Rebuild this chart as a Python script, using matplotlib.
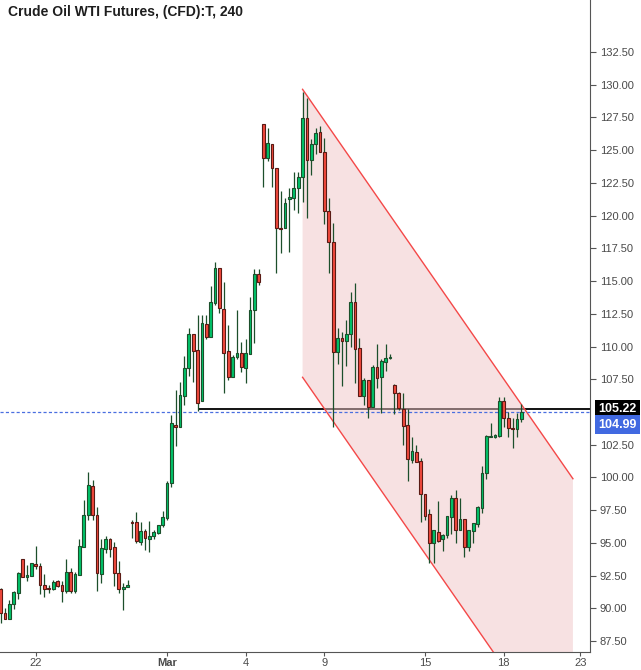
import matplotlib
matplotlib.use("Agg")
import matplotlib.pyplot as plt
import matplotlib.transforms as mtransforms
import numpy as np

plt.rcParams['font.family'] = ['Liberation Sans', 'DejaVu Sans']

# 4h candles (one entry per bar, left to right)
opens = [91.46, 89.62, 89.20, 90.33, 91.20, 93.75, 92.42, 92.50, 93.37, 93.21,
         91.76, 91.55, 91.50, 92.07, 91.76, 91.35, 92.75, 91.35, 92.58, 94.70,
         97.10, 99.35, 97.13, 92.65, 94.56, 95.27, 94.66, 92.68, 91.46, 91.60,
         96.62, 96.57, 95.10, 95.91, 95.33, 95.50, 95.78, 96.36, 96.93, 99.55,
         103.98, 103.83, 106.25, 108.33, 110.93, 109.73, 105.86, 111.70, 110.73, 113.30,
         115.97, 112.84, 109.63, 107.65, 109.17, 109.48, 108.33, 109.45, 112.82, 115.54,
         126.97, 124.38, 125.45, 123.61, 119.08, 119.03, 121.30, 121.32, 122.08, 122.92,
         127.43, 124.25, 125.45, 126.36, 124.83, 120.35, 118.01, 109.61, 110.63, 110.45,
         110.93, 113.38, 109.86, 106.25, 107.44, 105.41, 108.41, 107.65, 108.84, 109.10,
         107.06, 106.42, 105.20, 104.00, 101.33, 101.92, 101.25, 98.71, 97.18, 94.97,
         95.80, 95.27, 95.60, 97.00, 98.45, 95.98, 96.80, 94.71, 95.94, 96.44,
         97.70, 100.31, 103.07, 103.12, 103.17, 105.84, 104.51, 103.75, 103.70, 104.44]
highs = [91.53, 90.00, 90.64, 91.30, 92.80, 93.80, 93.31, 93.44, 94.77, 93.50,
         92.60, 91.80, 92.20, 92.14, 92.07, 93.77, 93.06, 92.80, 95.30, 98.28,
         100.42, 99.80, 97.77, 95.30, 95.53, 95.35, 95.04, 93.62, 91.90, 92.20,
         96.75, 97.36, 96.57, 96.06, 96.67, 96.00, 96.37, 97.44, 99.73, 104.77,
         106.68, 107.26, 109.28, 111.39, 110.93, 112.41, 112.41, 112.41, 114.62, 116.46,
         115.97, 114.90, 111.64, 109.35, 112.79, 110.32, 110.57, 113.80, 115.92, 115.92,
         126.97, 126.67, 125.45, 123.61, 121.88, 121.37, 122.08, 123.31, 123.31, 129.42,
         128.96, 125.83, 126.67, 126.85, 125.90, 121.32, 119.41, 111.39, 111.13, 112.03,
         114.14, 114.83, 110.63, 107.57, 107.44, 108.59, 110.19, 109.02, 110.19, 109.40,
         107.14, 106.55, 106.42, 105.20, 103.11, 102.48, 101.46, 98.71, 97.60, 95.99,
         98.20, 95.68, 97.05, 98.66, 99.04, 98.40, 96.80, 95.99, 96.49, 97.82,
         100.87, 103.24, 104.18, 103.30, 106.12, 106.12, 105.00, 104.51, 104.90, 105.61]
lows = [88.90, 89.20, 89.20, 89.98, 90.74, 92.40, 92.12, 92.50, 93.00, 91.13,
        90.90, 91.20, 91.40, 91.63, 90.51, 91.15, 91.20, 91.20, 92.58, 94.70,
        96.75, 96.75, 91.35, 91.90, 94.25, 93.95, 91.71, 91.20, 89.88, 91.60,
        95.40, 95.00, 94.84, 94.46, 94.33, 95.27, 95.68, 96.24, 96.73, 99.30,
        102.43, 103.83, 105.53, 107.75, 107.32, 105.10, 105.86, 110.58, 110.73, 113.17,
        112.59, 106.47, 107.44, 107.65, 109.02, 108.08, 107.24, 109.45, 110.30, 114.70,
        122.21, 124.20, 122.21, 115.59, 117.17, 119.03, 117.25, 120.43, 120.23, 121.07,
        119.79, 123.10, 124.71, 124.83, 119.33, 115.59, 103.83, 108.66, 106.98, 108.51,
        109.94, 107.19, 106.25, 105.53, 104.51, 105.41, 106.86, 104.90, 108.13, 109.08,
        104.82, 105.15, 102.48, 99.75, 101.08, 101.20, 96.62, 96.75, 93.44, 93.49,
        95.09, 94.40, 95.35, 95.68, 94.97, 95.98, 93.95, 94.40, 95.02, 96.24,
        97.26, 99.85, 103.07, 103.05, 103.10, 103.88, 103.10, 102.27, 103.10, 104.26]
closes = [89.62, 89.20, 90.33, 91.23, 92.68, 92.42, 92.52, 93.44, 93.27, 91.76,
          91.50, 91.50, 91.99, 91.73, 91.35, 92.75, 91.35, 92.63, 94.77, 97.13,
          99.43, 97.10, 92.73, 94.59, 95.27, 94.56, 92.68, 91.46, 91.63, 91.78,
          96.55, 95.17, 95.91, 95.35, 95.53, 95.80, 96.37, 96.96, 99.55, 104.13,
          103.83, 106.30, 108.33, 110.93, 109.68, 105.71, 111.77, 110.75, 113.38, 115.97,
          112.92, 109.53, 107.70, 109.17, 109.48, 108.40, 109.48, 112.76, 115.54, 114.96,
          124.38, 125.52, 123.61, 119.03, 119.00, 120.94, 121.40, 122.08, 122.92, 127.43,
          124.25, 125.45, 126.29, 124.83, 120.35, 118.01, 109.56, 110.63, 110.45, 110.93,
          113.38, 109.79, 106.25, 107.44, 105.41, 108.41, 107.57, 108.92, 109.10, 109.12,
          106.48, 105.28, 103.95, 101.38, 102.02, 101.20, 98.71, 97.08, 95.02, 95.99,
          95.17, 95.60, 97.05, 98.45, 95.98, 96.80, 94.71, 95.99, 96.49, 97.77,
          100.31, 103.17, 103.17, 103.24, 105.84, 104.51, 103.75, 103.70, 104.44, 104.99]

# date labels at bar positions
tick_pos = [8, 38, 56, 74, 97, 115, 132.5]
tick_labels = ["22", "Mar", "4", "9", "15", "18", "23"]

# descending channel (bar index, price)
channel_x = [69, 130.8]
channel_upper = [129.65, 99.9]
channel_lower = [107.65, 77.9]

level_price = 105.22
level_start = 45
last_price = 104.99

up_fill = "#00c46a"
up_edge = "#1c4f2b"
down_fill = "#f2493d"
down_edge = "#5a1a14"
wick_col = "#1c4f2b"
axis_col = "#555555"
text_col = "#4a4a4a"

fig = plt.figure(figsize=(6.41, 6.70), dpi=100)
ax = fig.add_axes([0, 18 / 670, 590 / 641, 652 / 670])

x = np.arange(len(opens))
o = np.array(opens)
c = np.array(closes)
up = c >= o

# black horizontal level (under the channel fill)
ax.hlines(level_price, level_start, 200, color="black", lw=1.3, zorder=1)

# channel
ax.fill_between(channel_x, channel_lower, channel_upper, color="#f0c4c6", alpha=0.5, lw=0, zorder=2)
ax.plot(channel_x, channel_upper, color="#f44848", lw=1.0, zorder=3)
ax.plot(channel_x, channel_lower, color="#f44848", lw=1.0, zorder=3)

# last price dashed line
ax.axhline(last_price, color="#4a6fe0", lw=0.9, ls=(0, (2.5, 1.8)), zorder=4)

# candles
ax.vlines(x, lows, highs, color=wick_col, lw=0.9, zorder=5)
bottoms = np.minimum(o, c)
heights = np.maximum(np.abs(c - o), 0.07)
ax.bar(x[up], heights[up], bottom=bottoms[up], width=0.62,
       color=up_fill, edgecolor=up_edge, linewidth=0.8, zorder=6)
ax.bar(x[~up], heights[~up], bottom=bottoms[~up], width=0.62,
       color=down_fill, edgecolor=down_edge, linewidth=0.8, zorder=6)

ax.set_xlim(-0.16, 134.7)
ax.set_ylim(132.5 - 600 / 13.09, 132.5 + 52 / 13.09)

# axes styling
for side in ["left", "top"]:
    ax.spines[side].set_visible(False)
ax.spines["right"].set_color(axis_col)
ax.spines["bottom"].set_color(axis_col)
ax.yaxis.tick_right()
yt = [v for v in np.arange(87.5, 133, 2.5) if abs(v - 105) > 0.1]
ax.set_yticks(yt)
ax.set_yticklabels([f"{v:.2f}" for v in yt])
ax.set_xticks(tick_pos)
ax.set_xticklabels(tick_labels)
ax.tick_params(axis="y", colors=axis_col, labelcolor=text_col, labelsize=8, length=4, pad=3)
ax.tick_params(axis="x", colors=axis_col, labelcolor=text_col, labelsize=8, length=3, pad=1)
for lbl in ax.get_xticklabels():
    if lbl.get_text() == "Mar":
        lbl.set_fontweight("bold")

# price boxes on the right axis
trans = mtransforms.blended_transform_factory(ax.transAxes, ax.transData)
ax.annotate(f"{level_price:.2f}", xy=(1.0, level_price), xycoords=trans,
            xytext=(6, 0), textcoords="offset points", ha="left", va="center",
            fontsize=9, fontweight="bold", color="white", annotation_clip=False,
            bbox=dict(boxstyle="square,pad=0.25", fc="black", ec="none"))
ax.annotate(f"{last_price:.2f}", xy=(1.0, last_price), xycoords=trans,
            xytext=(6, -9), textcoords="offset points", ha="left", va="center",
            fontsize=9, fontweight="bold", color="white", annotation_clip=False,
            bbox=dict(boxstyle="square,pad=0.25", fc="#4169e1", ec="none"))

ax.text(8 / 590, 1 - 12 / 652, "Crude Oil WTI Futures, (CFD):T, 240", transform=ax.transAxes,
        ha="left", va="center", fontsize=10, fontweight="bold", color="#1e1e1e")

fig.savefig("out.png", dpi=100)
